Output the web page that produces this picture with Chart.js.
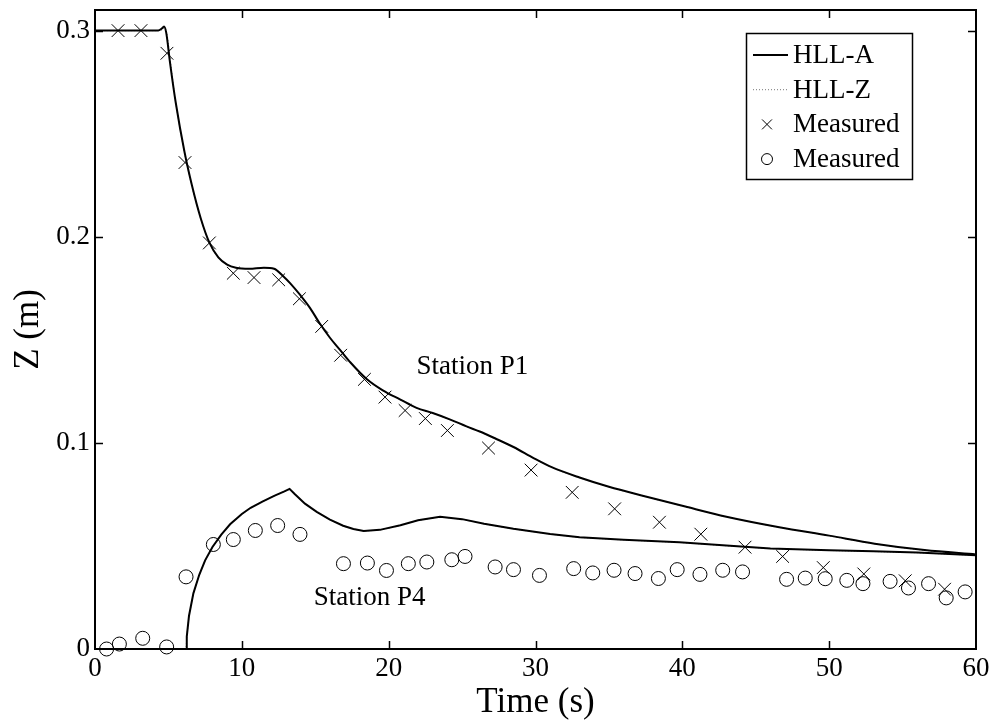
<!DOCTYPE html>
<html>
<head>
<meta charset="utf-8">
<script src="https://cdn.jsdelivr.net/npm/chart.js@4/dist/chart.umd.min.js"></script>
<style>
  html, body { margin: 0; padding: 0; background: #fff; }
  #wrap { width: 995px; height: 727px; }
</style>
</head>
<body>
<div id="wrap"><canvas id="c" width="995" height="727"></canvas></div>
<script>
// ---------- data ----------
const xTicks = [0, 10, 20, 30, 40, 50, 60];
const yTicks = [0, 0.1, 0.2, 0.3];

// Station P1, HLL-A simulation
const p1SimTime = [0, 2, 4.3, 4.55, 4.7, 4.85, 5.1, 5.5, 6.1, 6.6, 7.2, 7.8, 8.4, 9.0, 9.6, 10.5, 11.5, 12.2, 12.8, 13.3, 14, 14.65, 15.3, 16, 16.7, 17.4, 18.5, 19.6, 20.8, 21.9, 23, 24.2, 25.3, 26.2, 27.3, 28.5, 29.9, 31.1, 33, 35, 37.5, 40.2, 43, 46.6, 50, 53.1, 56.5, 60];
const p1SimZ    = [0.3, 0.3, 0.3, 0.301, 0.302, 0.299, 0.285, 0.265, 0.241, 0.225, 0.209, 0.197, 0.19, 0.1865, 0.185, 0.1845, 0.185, 0.1845, 0.181, 0.1774, 0.1715, 0.1654, 0.158, 0.151, 0.145, 0.139, 0.131, 0.1255, 0.121, 0.117, 0.1145, 0.1113, 0.108, 0.1055, 0.102, 0.098, 0.0925, 0.0882, 0.0832, 0.0787, 0.074, 0.0691, 0.0642, 0.0591, 0.055, 0.0511, 0.048, 0.0459];

// Station P1, HLL-Z simulation
const p1ZTime = [0, 2, 4.3, 4.6, 4.75, 4.9, 5.15, 5.5, 6.1, 6.6, 7.2, 7.8, 8.4, 9.0, 9.6, 10.5, 11.5, 12.2, 12.8, 13.3, 14, 14.65, 15.3, 16, 16.7, 17.4, 18.5, 19.6, 20.8, 21.9, 23, 24.2, 25.3, 26.2, 27.3, 28.5, 29.9, 31.1, 33, 35, 37.5, 40.2, 43, 46.6, 50, 53.1, 56.5, 60];
const p1ZZ    = [0.3, 0.3, 0.3, 0.3005, 0.3015, 0.2985, 0.284, 0.265, 0.2405, 0.2245, 0.2088, 0.1968, 0.1898, 0.1864, 0.185, 0.1846, 0.1849, 0.1843, 0.1808, 0.1772, 0.1713, 0.1652, 0.1579, 0.1509, 0.1449, 0.1389, 0.1309, 0.1254, 0.1209, 0.1169, 0.1144, 0.1112, 0.1079, 0.1054, 0.1019, 0.0979, 0.0924, 0.0881, 0.0831, 0.0786, 0.0739, 0.069, 0.0641, 0.059, 0.0549, 0.051, 0.0479, 0.0458];

// Station P4, HLL-A simulation
const p4SimTime = [0, 3, 6.2, 6.25, 6.4, 6.7, 7.1, 7.5, 8, 8.6, 9.2, 10, 10.6, 11.4, 12.2, 12.9, 13.25, 13.6, 14.3, 15.1, 16, 16.9, 17.6, 18.3, 19.4, 20.8, 22, 23.5, 25, 26.5, 28.5, 31, 33, 36, 39.8, 43, 46, 50, 53, 56, 60];
const p4SimZ    = [0, 0, 0, 0.006, 0.016, 0.027, 0.036, 0.043, 0.0495, 0.0555, 0.0605, 0.0655, 0.0685, 0.0715, 0.0743, 0.0765, 0.0777, 0.0752, 0.0705, 0.0665, 0.0628, 0.0598, 0.0582, 0.0573, 0.0578, 0.06, 0.0625, 0.0642, 0.063, 0.0608, 0.0583, 0.0558, 0.0542, 0.053, 0.0518, 0.0502, 0.0488, 0.0479, 0.0474, 0.0468, 0.0455];

// Station P4, HLL-Z simulation
const p4ZTime = [0, 3, 6.2, 6.25, 6.4, 6.7, 7.1, 7.5, 8, 8.6, 9.2, 10, 10.6, 11.4, 12.2, 12.9, 13.25, 13.6, 14.3, 15.1, 16, 16.9, 17.6, 18.3, 19.4, 20.8, 22, 23.5, 25, 26.5, 28.5, 31, 33, 36, 39.8, 43, 46, 50, 53, 56, 60];
const p4ZZ    = [0, 0, 0, 0.0058, 0.0158, 0.0268, 0.0358, 0.0428, 0.0493, 0.0553, 0.0603, 0.0653, 0.0684, 0.0714, 0.0742, 0.0764, 0.0775, 0.0751, 0.0704, 0.0664, 0.0627, 0.0597, 0.0581, 0.0572, 0.0577, 0.0599, 0.0624, 0.0641, 0.0629, 0.0607, 0.0582, 0.0557, 0.0541, 0.0529, 0.0517, 0.0501, 0.0487, 0.0478, 0.0473, 0.0467, 0.0454];

// Measured at P1 (x markers)
const p1MeasTime = [1.57, 3.13, 4.9, 6.13, 7.79, 9.42, 10.83, 12.51, 13.92, 15.44, 16.73, 18.35, 19.75, 21.12, 22.5, 24.0, 26.8, 29.7, 32.5, 35.39, 38.44, 41.26, 44.27, 46.83, 49.6, 52.36, 55.18, 57.86];
const p1MeasZ    = [0.300, 0.300, 0.289, 0.236, 0.197, 0.1823, 0.1802, 0.1791, 0.1699, 0.1565, 0.1425, 0.1308, 0.1222, 0.1157, 0.1118, 0.106, 0.0975, 0.0868, 0.076, 0.068, 0.0615, 0.0557, 0.0494, 0.0449, 0.0395, 0.0364, 0.0331, 0.029];

// Measured at P4 (o markers)
const p4MeasTime = [0.79, 1.66, 3.25, 4.88, 6.2, 8.06, 9.42, 10.92, 12.44, 13.96, 16.92, 18.55, 19.85, 21.34, 22.6, 24.3, 25.2, 27.25, 28.5, 30.27, 32.6, 33.9, 35.35, 36.78, 38.37, 39.65, 41.2, 42.75, 44.1, 47.1, 48.37, 49.73, 51.2, 52.3, 54.15, 55.4, 56.77, 57.97, 59.26];
const p4MeasZ    = [0.0, 0.0024, 0.0052, 0.001, 0.035, 0.0507, 0.0531, 0.0575, 0.0599, 0.0556, 0.0414, 0.0417, 0.0381, 0.0414, 0.0422, 0.0433, 0.0449, 0.0398, 0.0385, 0.0357, 0.039, 0.0369, 0.0382, 0.0366, 0.0342, 0.0385, 0.0362, 0.0382, 0.0374, 0.0338, 0.0344, 0.0341, 0.0333, 0.0317, 0.0328, 0.0296, 0.0317, 0.0248, 0.0277];

const stationNames = ["Station P1", "Station P4"];
const stationTime  = [25.7, 18.7];
const stationZ     = [0.137, 0.0246];

// ---------- helpers ----------
const pts = (xs, ys) => xs.map((x, i) => ({ x: x, y: ys[i] }));
const FONT = "'Liberation Serif', 'Times New Roman', serif";
Chart.defaults.font.family = FONT;
Chart.defaults.color = '#000';

// frame, inward ticks on four sides, station labels, legend box
const framePlugin = {
  id: 'frame',
  afterDraw(chart) {
    const ctx = chart.ctx, a = chart.chartArea;
    const xs = chart.scales.x, ys = chart.scales.y;
    ctx.save();
    ctx.strokeStyle = '#000';
    ctx.lineWidth = 2;
    ctx.strokeRect(a.left, a.top, a.right - a.left, a.bottom - a.top);
    ctx.lineWidth = 1.5;
    const tl = 8;
    ctx.beginPath();
    xs.ticks.forEach(t => {
      const px = Math.round(xs.getPixelForValue(t.value)) + 0.5;
      if (t.value === xs.min || t.value === xs.max) return;
      ctx.moveTo(px, a.bottom); ctx.lineTo(px, a.bottom - tl);
      ctx.moveTo(px, a.top); ctx.lineTo(px, a.top + tl);
    });
    ys.ticks.forEach(t => {
      const py = Math.round(ys.getPixelForValue(t.value)) + 0.5;
      if (t.value === ys.min) return;
      ctx.moveTo(a.left, py); ctx.lineTo(a.left + tl, py);
      ctx.moveTo(a.right, py); ctx.lineTo(a.right - tl, py);
    });
    ctx.stroke();

    // station labels
    ctx.fillStyle = '#000';
    ctx.font = '27px ' + FONT;
    ctx.textAlign = 'center';
    ctx.textBaseline = 'middle';
    stationNames.forEach((s, i) => {
      ctx.fillText(s, xs.getPixelForValue(stationTime[i]), ys.getPixelForValue(stationZ[i]));
    });

    // legend
    const entries = [];
    chart.data.datasets.forEach(ds => {
      if (!entries.some(e => e.label === ds.label && e.pointStyle === ds.pointStyle)) entries.push(ds);
    });
    const bx = a.right - 230, by = a.top + 23, bw = 166, bh = 146;
    ctx.fillStyle = '#fff';
    ctx.fillRect(bx, by, bw, bh);
    ctx.lineWidth = 1.5;
    ctx.strokeStyle = '#000';
    ctx.strokeRect(bx + 0.5, by + 0.5, bw, bh);
    const rowH = 34.7;
    entries.forEach((ds, i) => {
      const cy = by + 22 + i * rowH;
      if (ds.showLine) {
        ctx.save();
        ctx.strokeStyle = ds.borderColor;
        ctx.lineWidth = ds.borderWidth;
        ctx.setLineDash(ds.borderDash || []);
        ctx.beginPath();
        ctx.moveTo(bx + 7, cy); ctx.lineTo(bx + 42, cy);
        ctx.stroke();
        ctx.restore();
      } else {
        ctx.save();
        ctx.fillStyle = 'rgba(0,0,0,0)';
        ctx.strokeStyle = '#000';
        ctx.lineWidth = 1;
        Chart.helpers.drawPoint(ctx, {
          pointStyle: ds.pointStyle, radius: ds.pointStyle === 'circle' ? 5.5 : 7,
          borderWidth: 1
        }, bx + 21, cy);
        ctx.restore();
      }
      ctx.fillStyle = '#000';
      ctx.textAlign = 'left';
      ctx.textBaseline = 'middle';
      ctx.fillText(ds.label, bx + 47, cy + 1);
    });
    ctx.restore();
  }
};

const lineDs = (label, xs, ys, color, width, dash, smooth) => ({
  label: label, data: pts(xs, ys), showLine: true, borderColor: color,
  borderWidth: width, borderDash: dash, pointRadius: 0, fill: false,
  cubicInterpolationMode: smooth ? 'monotone' : 'default',
  tension: 0, clip: false
});

const markDs = (label, xs, ys, style, r) => ({
  label: label, data: pts(xs, ys), showLine: false, pointStyle: style,
  pointRadius: r, pointBorderColor: '#000', pointBackgroundColor: 'rgba(0,0,0,0)',
  pointBorderWidth: 1, borderColor: '#000', backgroundColor: 'rgba(0,0,0,0)', clip: false
});

new Chart(document.getElementById('c'), {
  type: 'scatter',
  data: {
    datasets: [
      lineDs('HLL-A', p1SimTime, p1SimZ, '#000', 2, [], true),
      lineDs('HLL-A', p4SimTime, p4SimZ, '#000', 2, [], false),
      lineDs('HLL-Z', p1ZTime, p1ZZ, '#777', 1, [1, 2], true),
      lineDs('HLL-Z', p4ZTime, p4ZZ, '#777', 1, [1, 2], false),
      markDs('Measured', p1MeasTime, p1MeasZ, 'crossRot', 9),
      markDs('Measured', p4MeasTime, p4MeasZ, 'circle', 7)
    ]
  },
  options: {
    responsive: false,
    animation: false,
    events: [],
    layout: { padding: { top: 8, right: 19, left: 0, bottom: 0 } },
    plugins: { legend: { display: false }, tooltip: { enabled: false } },
    scales: {
      x: {
        type: 'linear', min: 0, max: 60,
        afterFit: s => { s.height = 78; s.paddingLeft = 0; s.paddingRight = 0; },
        afterBuildTicks: s => { s.ticks = xTicks.map(v => ({ value: v })); },
        grid: { display: false, drawTicks: false },
        border: { display: false },
        ticks: { font: { size: 27 }, color: '#000', padding: 4, maxRotation: 0,
                 callback: v => String(v) },
        title: { display: true, text: 'Time (s)', font: { size: 35 }, color: '#000',
                 padding: { top: 0, bottom: 3 } }
      },
      y: {
        type: 'linear', min: 0, max: 0.31,
        afterFit: s => { s.width = 95; s.paddingTop = 0; s.paddingBottom = 0; },
        afterBuildTicks: s => { s.ticks = yTicks.map(v => ({ value: v })); },
        grid: { display: false, drawTicks: false },
        border: { display: false },
        ticks: { font: { size: 27 }, color: '#000', padding: 5,
                 callback: v => (v === 0 ? '0' : v.toFixed(1)) },
        title: { display: true, text: 'Z (m)', font: { size: 35 }, color: '#000',
                 padding: { top: 8, bottom: 0 } }
      }
    }
  },
  plugins: [framePlugin]
});
</script>
</body>
</html>
